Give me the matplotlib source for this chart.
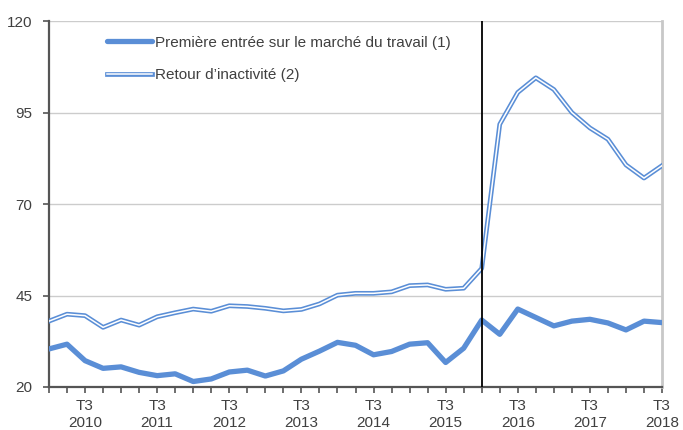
import matplotlib
matplotlib.use("Agg")
import matplotlib.pyplot as plt
import matplotlib.patheffects as pe

plt.rcParams['font.family'] = ['Liberation Sans', 'DejaVu Sans']

# quarters T1 2010 .. T3 2018
quarters = [f"T{q} {y}" for y in range(2010, 2019) for q in range(1, 5)][:35]

premiere_entree = [30.4, 31.7, 27.2, 25.1, 25.5, 24.0, 23.1, 23.6, 21.5, 22.2,
                   24.1, 24.6, 23.0, 24.4, 27.6, 29.8, 32.2, 31.4, 28.8, 29.7,
                   31.7, 32.1, 26.7, 30.6, 38.3, 34.4, 41.3, 39.0, 36.7, 38.0,
                   38.5, 37.5, 35.6, 38.0, 37.6]
retour_inactivite = [38.0, 39.9, 39.5, 36.3, 38.3, 36.9, 39.2, 40.3, 41.3, 40.7,
                     42.2, 42.0, 41.5, 40.8, 41.2, 42.7, 45.1, 45.6, 45.6, 46.0,
                     47.7, 47.9, 46.7, 47.0, 52.4, 91.8, 100.5, 104.5, 101.3, 95.0,
                     90.8, 87.7, 80.7, 77.1, 80.5]

blue = "#5a8ed6"
grey_txt = "#404040"
fs = 11

fig = plt.figure(figsize=(6.83, 4.30), dpi=100)
ax = fig.add_axes([0.0717, 0.1, 0.8976, 0.851])

x = list(range(len(quarters)))

ax.plot(x, premiere_entree, color=blue, lw=3.8, solid_capstyle="round",
        solid_joinstyle="round", label="Première entrée sur le marché du travail (1)", zorder=3)
ax.plot(x, retour_inactivite, color="white", lw=1.1,
        path_effects=[pe.Stroke(linewidth=3.4, foreground=blue), pe.Normal()],
        label="Retour d\u2019inactivité (2)", zorder=3)

# rupture line at T1 2016
ax.axvline(quarters.index("T1 2016"), color="black", lw=1.3, zorder=4)

ax.set_xlim(0, len(quarters) - 1)
ax.set_ylim(20, 120)
ax.set_yticks([20, 45, 70, 95, 120])
ax.yaxis.grid(True, color="#cccccc", lw=1)
ax.set_axisbelow(True)

ax.set_xticks(x)
labels = []
for q in quarters:
    t, y = q.split()
    labels.append(f"{t}\n{y}" if t == "T3" else "")
ax.set_xticklabels(labels)
ax.tick_params(axis="x", direction="out", length=4, width=1.2, color="#555555",
               labelsize=fs, labelcolor=grey_txt, pad=5)
ax.tick_params(axis="y", direction="out", length=4, width=1.2, color="#555555",
               labelsize=fs, labelcolor=grey_txt, pad=8)

for s in ["left", "bottom"]:
    ax.spines[s].set_color("#555555")
    ax.spines[s].set_linewidth(1.6)
ax.spines["top"].set_visible(False)
ax.spines["right"].set_color("#c8c8c8")
ax.spines["right"].set_linewidth(2)

leg = ax.legend(loc="upper left", bbox_to_anchor=(0.094, 0.96), frameon=False,
                fontsize=fs, handlelength=3.0, handletextpad=0.2,
                labelspacing=1.2, borderpad=0, borderaxespad=0)
for t in leg.get_texts():
    t.set_color(grey_txt)

fig.savefig("out.png", dpi=100)
